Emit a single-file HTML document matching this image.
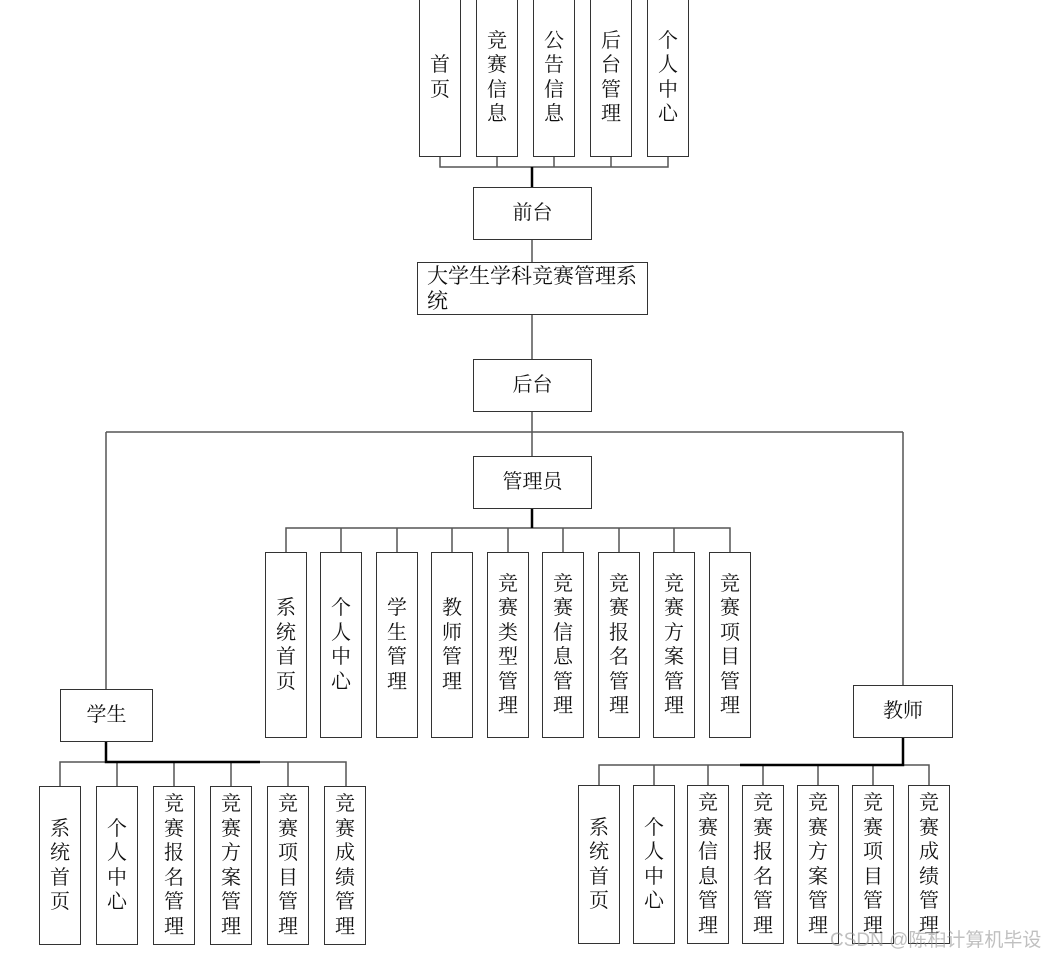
<!DOCTYPE html>
<html><head><meta charset="utf-8"><style>
body{margin:0;width:1043px;height:955px;background:#fff;position:relative;overflow:hidden;font-family:"Liberation Serif","Noto Serif CJK SC","Noto Sans CJK SC",serif;color:#111}
.b{position:absolute;box-sizing:border-box;border:1.5px solid #333;background:#fff;display:flex;align-items:center;justify-content:center;text-align:center;font-size:20px;line-height:24.5px;word-break:break-all}
.v{width:42px}
.v span{display:block;width:22px;word-break:break-all}
svg{position:absolute;left:0;top:0}
</style></head><body>
<svg width="1043" height="955">
<g stroke="#555" stroke-width="1.5" fill="none">
<path d="M440 157V167H668V157M497 157V167M554 157V167M611 157V167"/>
<path d="M532 239V262M532 314V359M532 411V432M106 432H903M106 432V689M903 432V685M532 432V456"/>
<path d="M286 552V528H730V552M341 528V552M397 528V552M452 528V552M508 528V552M563 528V552M619 528V552M674 528V552"/>
<path d="M60 786V762H346V786M117 762V786M174 762V786M231 762V786M288 762V786"/>
<path d="M599 785V765H929V785M654 765V785M708 765V785M763 765V785M818 765V785M873 765V785"/>
</g>
<g stroke="#000" stroke-width="2.5" fill="none">
<path d="M532 167V187M532 508V528M106 741V762H260M903 737V765H740"/>
</g>
</svg>
<div class="b v" style="left:419px;top:-2px;height:159px"><span>首页</span></div>
<div class="b v" style="left:476px;top:-2px;height:159px"><span>竞赛信息</span></div>
<div class="b v" style="left:533px;top:-2px;height:159px"><span>公告信息</span></div>
<div class="b v" style="left:590px;top:-2px;height:159px"><span>后台管理</span></div>
<div class="b v" style="left:647px;top:-2px;height:159px"><span>个人中心</span></div>
<div class="b" style="left:473px;top:187px;width:119px;height:53px">前台</div>
<div class="b" style="left:417px;top:262px;width:231px;height:53px;justify-content:flex-start;align-items:flex-start;text-align:left;font-size:21px;line-height:25px;padding:1px 0 0 9px">大学生学科竞赛管理系统</div>
<div class="b" style="left:473px;top:359px;width:119px;height:53px">后台</div>
<div class="b" style="left:473px;top:456px;width:119px;height:53px">管理员</div>
<div class="b" style="left:60px;top:689px;width:93px;height:53px">学生</div>
<div class="b" style="left:853px;top:685px;width:100px;height:53px">教师</div>

<div class="b v" style="left:265px;top:552px;height:186px"><span>系统首页</span></div>
<div class="b v" style="left:320px;top:552px;height:186px"><span>个人中心</span></div>
<div class="b v" style="left:376px;top:552px;height:186px"><span>学生管理</span></div>
<div class="b v" style="left:431px;top:552px;height:186px"><span>教师管理</span></div>
<div class="b v" style="left:487px;top:552px;height:186px"><span>竞赛类型管理</span></div>
<div class="b v" style="left:542px;top:552px;height:186px"><span>竞赛信息管理</span></div>
<div class="b v" style="left:598px;top:552px;height:186px"><span>竞赛报名管理</span></div>
<div class="b v" style="left:653px;top:552px;height:186px"><span>竞赛方案管理</span></div>
<div class="b v" style="left:709px;top:552px;height:186px"><span>竞赛项目管理</span></div>

<div class="b v" style="left:39px;top:786px;height:159px"><span>系统首页</span></div>
<div class="b v" style="left:96px;top:786px;height:159px"><span>个人中心</span></div>
<div class="b v" style="left:153px;top:786px;height:159px"><span>竞赛报名管理</span></div>
<div class="b v" style="left:210px;top:786px;height:159px"><span>竞赛方案管理</span></div>
<div class="b v" style="left:267px;top:786px;height:159px"><span>竞赛项目管理</span></div>
<div class="b v" style="left:324px;top:786px;height:159px"><span>竞赛成绩管理</span></div>

<div class="b v" style="left:578px;top:785px;height:159px"><span>系统首页</span></div>
<div class="b v" style="left:633px;top:785px;height:159px"><span>个人中心</span></div>
<div class="b v" style="left:687px;top:785px;height:159px"><span>竞赛信息管理</span></div>
<div class="b v" style="left:742px;top:785px;height:159px"><span>竞赛报名管理</span></div>
<div class="b v" style="left:797px;top:785px;height:159px"><span>竞赛方案管理</span></div>
<div class="b v" style="left:852px;top:785px;height:159px"><span>竞赛项目管理</span></div>
<div class="b v" style="left:908px;top:785px;height:159px"><span>竞赛成绩管理</span></div>
<div style="position:absolute;left:830px;top:925px;font-family:'Liberation Sans','Noto Sans CJK SC',sans-serif;font-size:19px;color:rgba(150,150,150,0.6)">CSDN @陈桕计算机毕设</div>
</body></html>
